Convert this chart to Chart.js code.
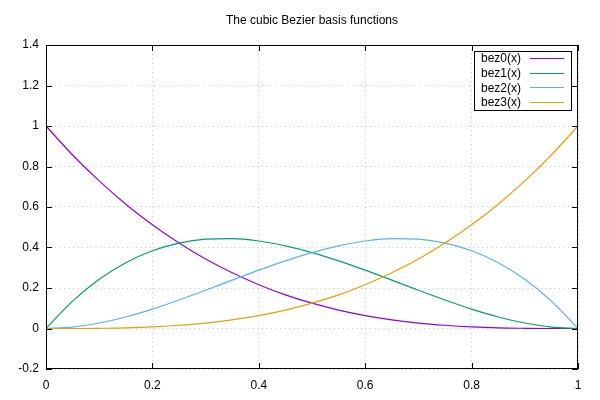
<!DOCTYPE html>
<html>
<head>
<meta charset="utf-8">
<script src="https://cdn.jsdelivr.net/npm/chart.js@4"></script>
<style>
  html, body { margin: 0; padding: 0; background: #fff; }
  #wrap { width: 600px; height: 400px; }
</style>
</head>
<body>
<div id="wrap"><canvas id="grafico"></canvas></div>
<script>
// valores, x de 0 a 1 de 0.05 em 0.05
const xs = [0, 0.05, 0.1, 0.15, 0.2, 0.25, 0.3, 0.35, 0.4, 0.45, 0.5,
            0.55, 0.6, 0.65, 0.7, 0.75, 0.8, 0.85, 0.9, 0.95, 1];
const bez0 = [1, 0.857, 0.729, 0.614, 0.512, 0.422, 0.343, 0.275, 0.216, 0.166, 0.125,
              0.091, 0.064, 0.043, 0.027, 0.016, 0.008, 0.003, 0.001, 0.0, 0];
const bez1 = [0, 0.135, 0.243, 0.325, 0.384, 0.422, 0.441, 0.444, 0.432, 0.408, 0.375,
              0.334, 0.288, 0.239, 0.189, 0.141, 0.096, 0.057, 0.027, 0.007, 0];
const bez2 = [0, 0.007, 0.027, 0.057, 0.096, 0.141, 0.189, 0.239, 0.288, 0.334, 0.375,
              0.408, 0.432, 0.444, 0.441, 0.422, 0.384, 0.325, 0.243, 0.135, 0];
const bez3 = [0, 0.0, 0.001, 0.003, 0.008, 0.016, 0.027, 0.043, 0.064, 0.091, 0.125,
              0.166, 0.216, 0.275, 0.343, 0.422, 0.512, 0.614, 0.729, 0.857, 1];

const xTicks = [0, 0.2, 0.4, 0.6, 0.8, 1];
const yTicks = [-0.2, 0, 0.2, 0.4, 0.6, 0.8, 1, 1.2, 1.4];
const seriesNames = ['bez0(x)', 'bez1(x)', 'bez2(x)', 'bez3(x)'];
const seriesColors = ['#9400d3', '#009e73', '#56b4e9', '#e69f00'];
const titulo = 'The cubic Bezier basis functions';

const FONTE = '12px "Liberation Sans", Arial, sans-serif';

const pontos = (ys) => xs.map((x, k) => ({ x: x, y: ys[k] }));

// moldura, marcas internas, título e legenda no estilo gnuplot
const estiloGnuplot = {
    id: 'estiloGnuplot',
    afterDraw(chart) {
        const ctx = chart.ctx;
        const a = chart.chartArea;
        const sx = chart.scales.x, sy = chart.scales.y;
        ctx.save();
        ctx.strokeStyle = '#000';
        ctx.lineWidth = 1;
        ctx.beginPath();
        xTicks.forEach(v => {
            const px = Math.round(sx.getPixelForValue(v)) + 0.5;
            ctx.moveTo(px, a.bottom); ctx.lineTo(px, a.bottom - 6);
            ctx.moveTo(px, a.top); ctx.lineTo(px, a.top + 6);
        });
        yTicks.forEach(v => {
            const py = Math.round(sy.getPixelForValue(v)) + 0.5;
            ctx.moveTo(a.left, py); ctx.lineTo(a.left + 6, py);
            ctx.moveTo(a.right, py); ctx.lineTo(a.right - 6, py);
        });
        ctx.stroke();
        ctx.strokeRect(a.left + 0.5, a.top + 0.5, a.right - a.left - 1, a.bottom - a.top - 1);

        // título
        ctx.fillStyle = '#000';
        ctx.font = FONTE;
        ctx.textAlign = 'center';
        ctx.textBaseline = 'middle';
        ctx.fillText(titulo, (a.left + a.right) / 2, 21);

        // legenda
        const bx = 474, by = 51, bw = 97, bh = 59;
        ctx.fillStyle = '#fff';
        ctx.fillRect(bx, by, bw, bh);
        ctx.strokeStyle = '#000';
        ctx.strokeRect(bx + 0.5, by + 0.5, bw, bh);
        ctx.textAlign = 'left';
        ctx.lineWidth = 1;
        seriesNames.forEach((nome, k) => {
            const y = 59 + k * 14.6;
            ctx.fillStyle = '#000';
            ctx.fillText(nome, 481, y);
            ctx.strokeStyle = seriesColors[k];
            ctx.beginPath();
            ctx.moveTo(530, Math.round(y) - 0.5);
            ctx.lineTo(564, Math.round(y) - 0.5);
            ctx.stroke();
        });
        ctx.restore();
    }
};

const ctx = document.getElementById('grafico').getContext('2d');
new Chart(ctx, {
    type: 'line',
    data: {
        datasets: seriesNames.map((nome, k) => ({
            label: nome,
            data: pontos([bez0, bez1, bez2, bez3][k]),
            borderColor: seriesColors[k],
            borderWidth: 1.2,
            pointRadius: 0,
            fill: false,
            cubicInterpolationMode: 'monotone',
            order: 4 - k
        }))
    },
    options: {
        responsive: true,
        maintainAspectRatio: false,
        animation: false,
        events: [],
        layout: { padding: { top: 45, right: 22, left: 0, bottom: 0 } },
        plugins: {
            legend: { display: false },
            title: { display: false },
            tooltip: { enabled: false }
        },
        scales: {
            x: {
                type: 'linear',
                min: 0, max: 1,
                afterBuildTicks: (s) => { s.ticks = xTicks.map(v => ({ value: v })); },
                afterFit: (s) => { s.height = 31; },
                ticks: {
                    color: '#000',
                    font: { family: '"Liberation Sans", Arial, sans-serif', size: 12 },
                    padding: 9,
                    maxRotation: 0,
                    callback: (v) => String(Math.round(v * 10) / 10)
                },
                grid: { color: '#c4c4c4', drawTicks: false, lineWidth: 1 },
                border: { display: false, dash: [1, 3.5] }
            },
            y: {
                type: 'linear',
                min: -0.2, max: 1.4,
                afterBuildTicks: (s) => { s.ticks = yTicks.map(v => ({ value: v })); },
                afterFit: (s) => { s.width = 46; },
                ticks: {
                    color: '#000',
                    font: { family: '"Liberation Sans", Arial, sans-serif', size: 12 },
                    padding: 7,
                    callback: (v) => String(Math.round(v * 10) / 10)
                },
                grid: { color: '#c4c4c4', drawTicks: false, lineWidth: 1 },
                border: { display: false, dash: [1, 3.5] }
            }
        }
    },
    plugins: [estiloGnuplot]
});
</script>
</body>
</html>
